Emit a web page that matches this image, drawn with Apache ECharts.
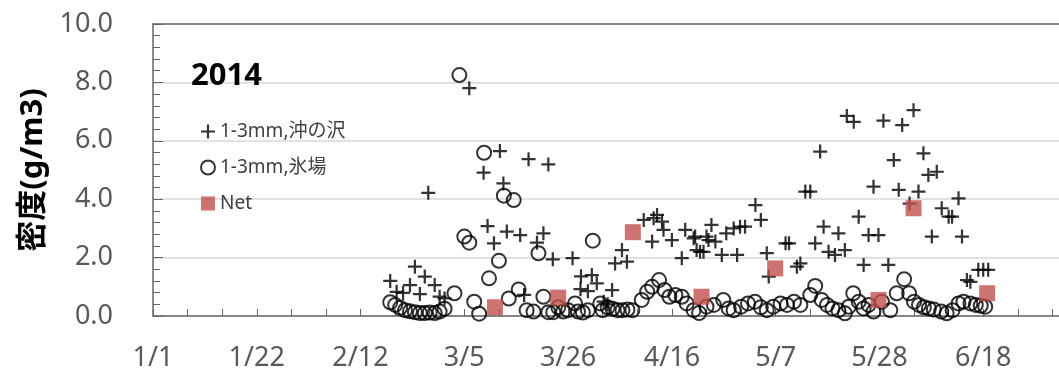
<!DOCTYPE html>
<html>
<head>
<meta charset="utf-8">
<script src="https://cdn.jsdelivr.net/npm/echarts@6/dist/echarts.min.js"></script>
<style>
  html, body { margin: 0; padding: 0; background: #fff; }
  #chart { width: 1059px; height: 379px; }
</style>
</head>
<body>
<div id="chart"></div>
<script>
// x = days since 1/1/2014
const xTickDays = [0, 21, 42, 63, 84, 105, 126, 147, 168];
const yTicks = [0, 2, 4, 6, 8, 10];

// 1-3mm, 沖の沢 (+)
const okiPoints = [
  [48, 1.2], [49.3, 0.83], [50.6, 0.79], [52, 1.06], [53, 1.69], [54, 0.75],
  [55, 1.35], [55.7, 4.22], [57, 1.06], [58, 0.66], [59, 0.6],
  [64, 7.8], [66.9, 4.91], [67.7, 3.08], [69, 2.49], [70.2, 5.65], [70.9, 4.54],
  [71.6, 2.89], [74.3, 2.77], [75.1, 0.72], [76, 5.37], [77.7, 2.51], [79, 2.83],
  [80, 5.19], [80.9, 1.94], [84.9, 1.98], [86.6, 1.36], [86.5, 0.92], [88, 0.85],
  [88.8, 1.4], [89.8, 1.12], [91.2, 0.49], [92, 0.4], [92.9, 0.89], [93.5, 1.8],
  [94.9, 2.26], [95.9, 1.86], [99.3, 3.29], [101, 2.55], [101.3, 3.35], [102, 3.46],
  [103, 3.23], [103.3, 2.95], [105, 2.6], [107, 1.98], [107.7, 2.95], [109.4, 2.66],
  [109.7, 2.72], [110, 2.26], [110.7, 2.2], [111.4, 2.2], [112, 2.72], [112.4, 2.6],
  [113, 3.12], [113.8, 2.55], [115.1, 2.09], [116, 2.83], [117.5, 3.0], [118.2, 2.09],
  [118.8, 3.06], [119.8, 3.06], [121.9, 3.8], [123, 3.29], [124.2, 2.15], [124.6, 1.35],
  [128, 2.49], [128.7, 2.49], [130.3, 1.69], [131, 1.8], [132, 4.26], [133, 4.26],
  [134, 2.49], [135, 5.63], [135.7, 3.06], [136.7, 2.2], [138, 2.09], [138.7, 2.83],
  [140, 2.26], [140.4, 6.85], [141.8, 6.65], [142.8, 3.4], [143.8, 1.75], [144.8, 2.77],
  [145.8, 4.43], [146.8, 2.77], [147.8, 6.69], [148.8, 1.75], [149.9, 5.34], [150.9, 4.32],
  [151.6, 6.54], [153.1, 3.85], [153.9, 7.05], [154.9, 4.26], [155.9, 5.57], [156.9, 4.83],
  [157.6, 2.72], [158.6, 4.94], [159.6, 3.69], [161, 3.4], [161.7, 3.4], [163, 4.03],
  [163.7, 2.72], [164.7, 1.23], [165.4, 1.17], [167, 1.58], [168, 1.58], [169, 1.58]
];

// 1-3mm, 氷場 (o)
const korippaPoints = [
  [48, 0.47], [49, 0.38], [50, 0.28], [51, 0.2], [52, 0.16], [53, 0.13], [54, 0.1],
  [55, 0.1], [56, 0.12], [57, 0.1], [58, 0.15], [59, 0.25], [61, 0.78],
  [62, 8.25], [63, 2.72], [64, 2.51], [65, 0.49], [66, 0.08], [67, 5.59], [68, 1.29],
  [70, 1.89], [71, 4.12], [72, 0.6], [73, 3.97], [74, 0.91], [75.6, 0.2], [77, 0.15],
  [78, 2.15], [79, 0.66], [80, 0.13], [81, 0.13], [82, 0.3], [83, 0.15], [84, 0.2],
  [85.4, 0.43], [86, 0.15], [87, 0.12], [88, 0.2], [89, 2.58], [90.5, 0.43], [91, 0.2],
  [92, 0.3], [93, 0.25], [94, 0.2], [95, 0.2], [96, 0.22], [97, 0.2], [98.9, 0.55],
  [100, 0.83], [101, 1.0], [102.4, 1.23], [103.5, 0.89], [104.5, 0.66], [105.7, 0.72],
  [107, 0.66], [108, 0.43], [109.4, 0.2], [110.5, 0.1], [112, 0.32], [113.5, 0.38],
  [115.4, 0.55], [116.5, 0.26], [117.5, 0.2], [119, 0.32], [120.4, 0.43], [121.8, 0.49],
  [123, 0.3], [124.2, 0.2], [125.5, 0.32], [127, 0.43], [128.3, 0.38], [129.7, 0.49],
  [131, 0.38], [133, 0.72], [134, 1.03], [135.3, 0.55], [136.4, 0.38], [137.5, 0.26],
  [138.7, 0.2], [140, 0.09], [140.8, 0.32], [141.7, 0.78], [142.8, 0.49], [143.8, 0.26],
  [144.8, 0.38], [145.8, 0.15], [147.5, 0.49], [149.2, 0.2], [150.5, 0.78], [152, 1.26],
  [153, 0.78], [154, 0.49], [155, 0.38], [156, 0.3], [157, 0.26], [158, 0.22],
  [159.5, 0.15], [160.6, 0.09], [161.8, 0.2], [163, 0.43], [164, 0.49], [165.4, 0.43],
  [166.5, 0.38], [167.5, 0.35], [168.4, 0.32]
];

// Net (red squares)
const netPoints = [
  [69.2, 0.3], [82, 0.63], [97.1, 2.87], [111, 0.66],
  [125.9, 1.63], [146.8, 0.55], [153.9, 3.69], [168.8, 0.78]
];

const seriesNames = ['1-3mm,沖の沢', '1-3mm,氷場', 'Net'];

const plusPath = 'path://M0,4.2H10V5.8H0Z M4.2,0H5.8V10H4.2Z';
const latin = '"Noto Sans", "Open Sans", sans-serif';
const cjk = '"Noto Sans", "Noto Sans CJK JP", sans-serif';

function dayLabel(v) {
  if (xTickDays.indexOf(v) < 0) return '';
  const d = new Date(2014, 0, 1 + v);
  return (d.getMonth() + 1) + '/' + d.getDate();
}

const chart = echarts.init(document.getElementById('chart'));
chart.setOption({
  animation: false,
  backgroundColor: '#fff',
  title: {
    text: '2014',
    left: 186,
    top: 56,
    textStyle: { fontFamily: latin, fontWeight: 'bold', fontSize: 31, color: '#000' }
  },
  legend: {
    orient: 'vertical',
    left: 195,
    top: 117,
    itemWidth: 14,
    itemHeight: 14,
    itemGap: 17,
    data: seriesNames,
    textStyle: { fontFamily: cjk, fontSize: 19, color: '#404040' }
  },
  // plot runs past the right edge of the picture (axis max beyond the visible range)
  grid: { left: 153, top: 24, width: 934, bottom: 63, outerBoundsMode: 'none' },
  xAxis: [
    {
      type: 'value',
      min: 0,
      max: 189,
      interval: 21,
      axisLine: { lineStyle: { color: '#666', width: 1.5 } },
      axisTick: { show: true, inside: true, length: 7, lineStyle: { color: '#666' } },
      minorTick: { show: true, splitNumber: 3, length: 7, lineStyle: { color: '#666' } },
      splitLine: { show: false },
      axisLabel: {
        formatter: dayLabel,
        margin: 29,
        fontFamily: latin,
        fontSize: 27,
        color: '#595959',
        showMaxLabel: false
      }
    },
    {
      type: 'value',
      position: 'top',
      min: 0,
      max: 189,
      axisLine: { show: true, lineStyle: { color: '#666', width: 1.5 } },
      axisTick: { show: false },
      axisLabel: { show: false },
      splitLine: { show: false }
    }
  ],
  yAxis: {
    type: 'value',
    min: yTicks[0],
    max: yTicks[yTicks.length - 1],
    interval: 2,
    name: '密度(g/m3)',
    nameLocation: 'middle',
    nameGap: 104,
    nameTextStyle: { fontFamily: cjk, fontWeight: 'bold', fontSize: 31, color: '#000' },
    axisLine: { show: true, lineStyle: { color: '#666', width: 1.5 } },
    axisTick: { show: true, inside: true, length: 10, lineStyle: { color: '#666' } },
    minorTick: { show: true, splitNumber: 5, length: 7, lineStyle: { color: '#666' } },
    splitLine: { show: true, lineStyle: { color: '#d9d9d9', width: 1.5 } },
    axisLabel: {
      formatter: v => v.toFixed(1),
      margin: 40,
      fontFamily: latin,
      fontSize: 27,
      color: '#595959'
    }
  },
  series: [
    {
      name: seriesNames[0],
      type: 'scatter',
      data: okiPoints,
      symbol: plusPath,
      symbolSize: 14,
      itemStyle: { color: '#000' }
    },
    {
      name: seriesNames[1],
      type: 'scatter',
      data: korippaPoints,
      symbol: 'circle',
      symbolSize: 14,
      itemStyle: { color: 'rgba(0,0,0,0)', borderColor: '#000', borderWidth: 2 }
    },
    {
      name: seriesNames[2],
      type: 'scatter',
      data: netPoints,
      symbol: 'rect',
      symbolSize: 16,
      itemStyle: { color: '#c0504d' }
    }
  ]
});
</script>
</body>
</html>
